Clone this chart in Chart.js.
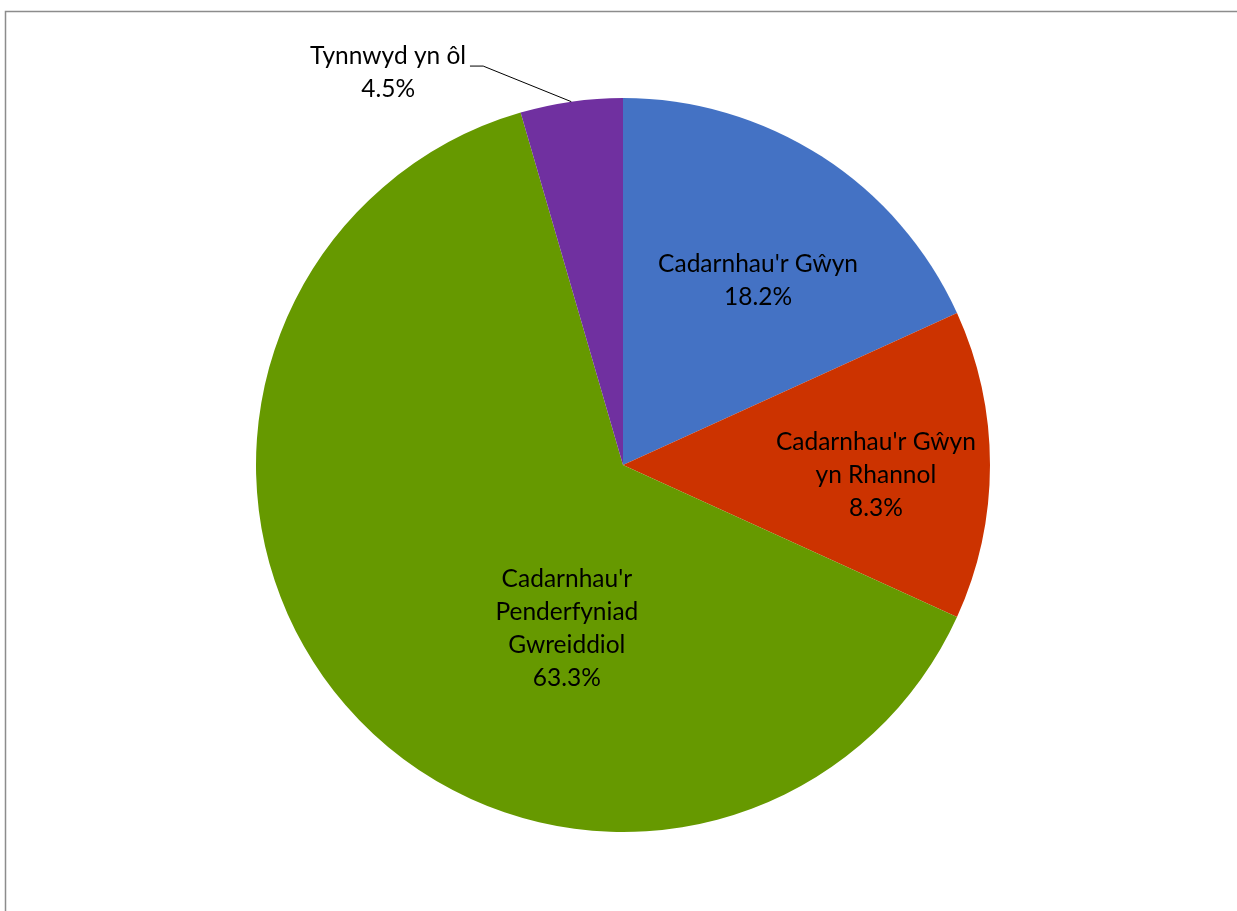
<!DOCTYPE html>
<html>
<head>
<meta charset="utf-8">
<script src="https://cdn.jsdelivr.net/npm/chart.js@4.4.0/dist/chart.umd.min.js"></script>
<style>
html,body{margin:0;padding:0;background:#fff;}
#wrap{position:relative;width:1237px;height:911px;}
</style>
</head>
<body>
<div id="wrap"><canvas id="c" width="1237" height="911"></canvas></div>
<script>
// Data
const categories = ["Cadarnhau'r Gŵyn", "Cadarnhau'r Gŵyn yn Rhannol", "Cadarnhau'r Penderfyniad Gwreiddiol", "Tynnwyd yn ôl"];
const sliceValues = [18.2, 13.6, 63.7, 4.5];
const percentLabels = ["18.2%", "8.3%", "63.3%", "4.5%"];
const labelLines = [
  ["Cadarnhau'r Gŵyn"],
  ["Cadarnhau'r Gŵyn", "yn Rhannol"],
  ["Cadarnhau'r", "Penderfyniad", "Gwreiddiol"],
  ["Tynnwyd yn ôl"]
];
const colors = ["#4472C4", "#CC3300", "#669900", "#7030A0"];

// label placement (fractions of radius from centre)
const labelPlacement = [
  {fx: 0.368, fy: -0.503},
  {fx: 0.689, fy: 0.027},
  {fx: -0.153, fy: 0.447},
  {fx: -0.640, fy: -1.069, leader: {sx: -0.417, sy: -1.087, ex: -0.381}}
];
const FONT = '24.5px Lato, "Open Sans", sans-serif';
const LINE_H = 33;

const framePlugin = {
  id: 'frame',
  beforeDraw(chart) {
    const ctx = chart.ctx;
    ctx.save();
    ctx.fillStyle = '#fff';
    ctx.fillRect(0, 0, chart.width, chart.height);
    ctx.strokeStyle = '#8c8c8c';
    ctx.lineWidth = 1.5;
    ctx.strokeRect(5.5, 11.5, chart.width + 20, chart.height + 20);
    ctx.restore();
  }
};

const labelPlugin = {
  id: 'sliceLabels',
  afterDatasetsDraw(chart) {
    const ctx = chart.ctx;
    const meta = chart.getDatasetMeta(0);
    ctx.save();
    ctx.font = FONT;
    ctx.fillStyle = '#000';
    ctx.textAlign = 'center';
    ctx.textBaseline = 'middle';
    meta.data.forEach((arc, i) => {
      const cx = arc.x, cy = arc.y, r = arc.outerRadius;
      const p = labelPlacement[i];
      const lines = labelLines[i].concat([percentLabels[i]]);
      const x = cx + r * p.fx;
      const y = cy + r * p.fy;
      const top = y - (lines.length - 1) * LINE_H / 2;
      lines.forEach((t, k) => ctx.fillText(t, x, top + k * LINE_H));
      if (p.leader) {
        const mid = (arc.startAngle + arc.endAngle) / 2;
        const ax = cx + r * Math.cos(mid), ay = cy + r * Math.sin(mid);
        ctx.beginPath();
        ctx.strokeStyle = '#000';
        ctx.lineWidth = 1;
        ctx.moveTo(cx + r * p.leader.sx, cy + r * p.leader.sy);
        ctx.lineTo(cx + r * p.leader.ex, cy + r * p.leader.sy);
        ctx.lineTo(ax, ay);
        ctx.stroke();
      }
    });
    ctx.restore();
  }
};

new Chart(document.getElementById('c'), {
  type: 'pie',
  data: {
    labels: categories,
    datasets: [{
      data: sliceValues,
      backgroundColor: colors,
      borderWidth: 0
    }]
  },
  options: {
    responsive: false,
    animation: false,
    layout: { padding: { top: 98, bottom: 79, left: 256, right: 247 } },
    plugins: { legend: { display: false }, tooltip: { enabled: false } }
  },
  plugins: [framePlugin, labelPlugin]
});
</script>
</body>
</html>
